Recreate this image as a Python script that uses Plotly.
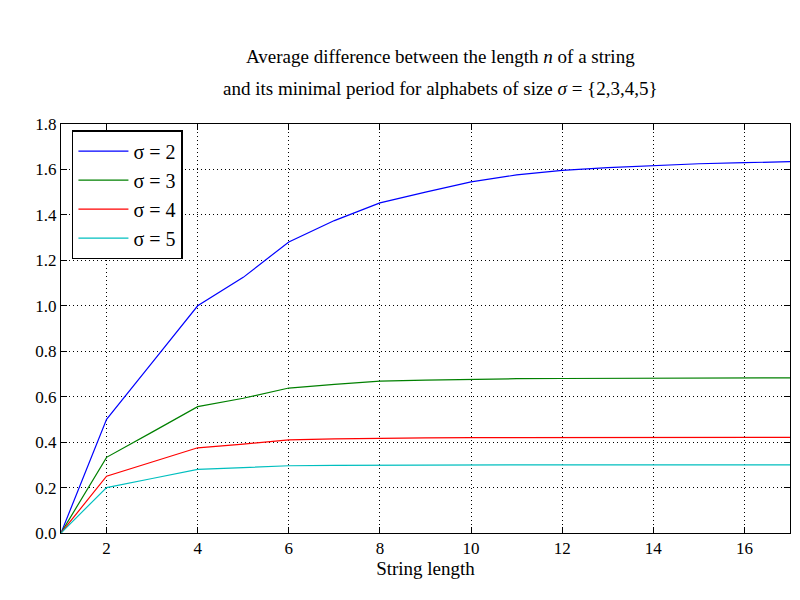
import plotly.graph_objects as go

# string lengths
lengths = list(range(1, 18))

# average (n - minimal period) per alphabet size
sigma2 = [0, 0.5, 0.75, 1.0, 1.125, 1.281, 1.375, 1.453, 1.5, 1.545, 1.576, 1.596, 1.608, 1.618, 1.625, 1.630, 1.634]
sigma3 = [0, 0.333, 0.444, 0.556, 0.593, 0.638, 0.654, 0.668, 0.673, 0.677, 0.679, 0.680, 0.681, 0.682, 0.682, 0.683, 0.683]
sigma4 = [0, 0.25, 0.3125, 0.375, 0.391, 0.410, 0.414, 0.418, 0.419, 0.420, 0.420, 0.421, 0.421, 0.421, 0.421, 0.421, 0.421]
sigma5 = [0, 0.2, 0.24, 0.28, 0.288, 0.296, 0.298, 0.299, 0.300, 0.300, 0.300, 0.300, 0.300, 0.300, 0.300, 0.300, 0.300]

series = [("σ = 2", sigma2, "#0000ff"),
          ("σ = 3", sigma3, "#008000"),
          ("σ = 4", sigma4, "#ff0000"),
          ("σ = 5", sigma5, "#00bfbf")]

title_lines = ["Average difference between the length <i>n</i> of a string",
               "and its minimal period for alphabets of size <i>σ</i> = {2,3,4,5}"]

fig = go.Figure()
for name, vals, color in series:
    fig.add_trace(go.Scatter(x=lengths, y=vals, mode="lines", name=name,
                             line=dict(color=color, width=1.2)))

axis_style = dict(showline=True, mirror="ticks", linecolor="black", linewidth=1,
                  ticks="inside", ticklen=6, tickcolor="black", automargin=False,
                  showgrid=True, gridcolor="black", griddash="1px,3px", gridwidth=0.8,
                  zeroline=False, tickfont=dict(size=17))

for i, line in enumerate(title_lines):
    fig.add_annotation(text=line, xref="paper", yref="paper", x=0.52, y=1.0,
                       yshift=68 - 32 * i, showarrow=False, xanchor="center",
                       yanchor="middle", font=dict(size=19))

fig.update_layout(
    width=800, height=600,
    paper_bgcolor="white", plot_bgcolor="white",
    font=dict(family="Liberation Serif, DejaVu Serif, serif", color="black", size=16),
    margin=dict(l=53, r=18, t=116, b=75),
    xaxis=dict(range=[1, 17], tickvals=[2, 4, 6, 8, 10, 12, 14, 16],
               title=dict(text="String length", font=dict(size=19), standoff=2), **axis_style),
    yaxis=dict(range=[0, 1.8], dtick=0.2, tickformat=".1f", **axis_style),
    legend=dict(x=0.015, y=0.985, xanchor="left", yanchor="top",
                bordercolor="black", borderwidth=1.5, bgcolor="white",
                font=dict(size=20), tracegroupgap=4, itemwidth=50),
    showlegend=True,
)

fig.write_html("out.html")
